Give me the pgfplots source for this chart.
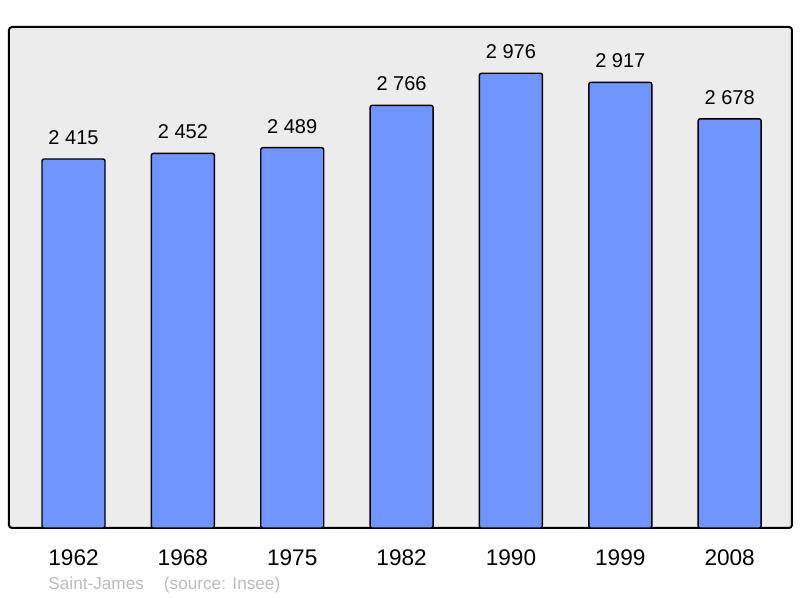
\documentclass[border=0pt]{standalone}
\usepackage{fontspec}
\setmainfont{Liberation Sans}
\usepackage{pgfplots}
\pgfplotsset{compat=1.18}
\definecolor{barblue}{HTML}{7095FF}
\definecolor{bggray}{HTML}{ECECEC}
\definecolor{footgray}{HTML}{BBBBBB}

\begin{document}
\begin{tikzpicture}[x=0.5pt,y=0.5pt]
\useasboundingbox (0,0) rectangle (800,598);
\begin{axis}[
    at={(4.5pt,35pt)}, anchor=south west,
    width=391.5pt, height=250.5pt, scale only axis,
    xmin=-0.59, xmax=6.57,
    ymin=0, ymax=3279,
    axis background/.style={fill=bggray},
    axis line style={line width=1pt, rounded corners=1.5pt},
    ytick=\empty,
    xtick={0,...,6},
    xticklabels={1962,1968,1975,1982,1990,1999,2008},
    xtick style={draw=none},
    xticklabel style={font=\fontsize{11.3pt}{13pt}\selectfont, yshift=-3pt},
    ybar, bar width=31.5pt,
    nodes near coords={\pgfmathprintnumber[1000 sep={\space}, assume math mode=true]{\pgfplotspointmeta}},
    every node near coord/.append style={font=\fontsize{10pt}{12pt}\selectfont, yshift=3.5pt},
]
\addplot[fill=barblue, draw=black, line width=0.7pt, rounded corners=1pt] coordinates {
  (0,2415) (1,2452) (2,2489) (3,2766) (4,2976) (5,2917) (6,2678)
};
\end{axis}
\node[anchor=base west, text=footgray, font=\fontsize{8.6pt}{10pt}\selectfont, inner sep=0] at (48,8) {Saint-James\hspace{10pt}(source: Insee)};
\end{tikzpicture}
\end{document}
